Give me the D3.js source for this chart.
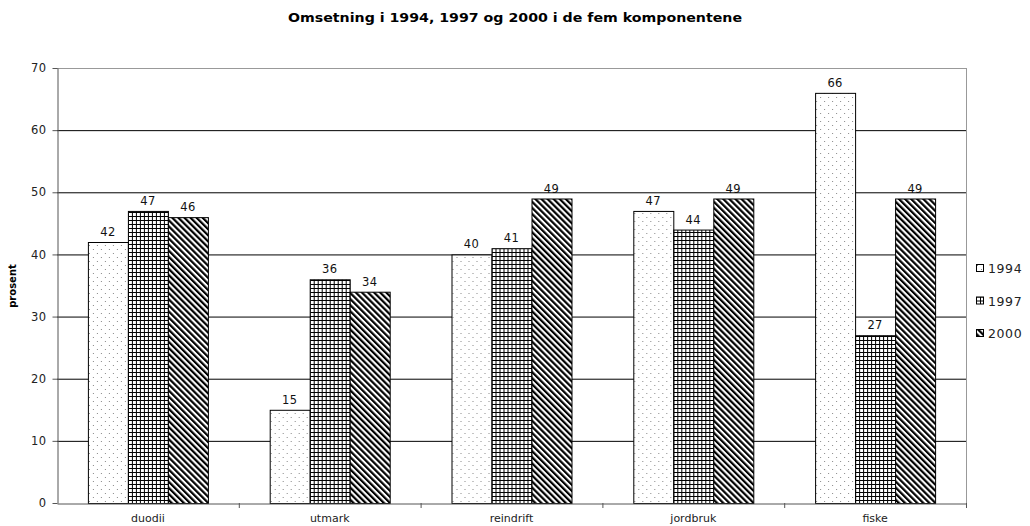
<!DOCTYPE html>
<html>
<head>
<meta charset="utf-8">
<script src="https://cdn.jsdelivr.net/npm/d3@7"></script>
<style>
  body { margin: 0; background: #fff; }
  text { font-family: "DejaVu Sans", Verdana, sans-serif; }
</style>
</head>
<body>
<div id="wrapper"></div>
<script>
var categories = ["duodii", "utmark", "reindrift", "jordbruk", "fiske"];
var years = ["1994", "1997", "2000"];
var values1994 = [42, 15, 40, 47, 66];
var values1997 = [47, 36, 41, 44, 27];
var values2000 = [46, 34, 49, 49, 49];
var yTicks = [0, 10, 20, 30, 40, 50, 60, 70];

var series = [values1994, values1997, values2000];

var width = 1030, height = 526;
var margin = { top: 68, right: 64, bottom: 23, left: 57 };

var svg = d3.select("#wrapper").append("svg")
    .attr("width", width)
    .attr("height", height);

// patterns
var defs = svg.append("defs");
var pDot = defs.append("pattern").attr("id", "p0")
    .attr("patternUnits", "userSpaceOnUse").attr("width", 8).attr("height", 8);
pDot.append("rect").attr("width", 8).attr("height", 8).attr("fill", "#fff");
pDot.append("rect").attr("x", 1).attr("y", 1).attr("width", 1).attr("height", 1).attr("fill", "#888");
pDot.append("rect").attr("x", 5).attr("y", 5).attr("width", 1).attr("height", 1).attr("fill", "#888");

var pGrid = defs.append("pattern").attr("id", "p1")
    .attr("patternUnits", "userSpaceOnUse").attr("width", 4).attr("height", 4);
pGrid.append("rect").attr("width", 4).attr("height", 4).attr("fill", "#fff");
pGrid.append("rect").attr("x", 0).attr("y", 0).attr("width", 4).attr("height", 1).attr("fill", "#000");
pGrid.append("rect").attr("x", 0).attr("y", 0).attr("width", 1).attr("height", 4).attr("fill", "#000");

var pDiag = defs.append("pattern").attr("id", "p2")
    .attr("patternUnits", "userSpaceOnUse").attr("width", 4.3).attr("height", 4.3)
    .attr("patternTransform", "rotate(-45)");
pDiag.append("rect").attr("width", 4.3).attr("height", 4.3).attr("fill", "#fff");
pDiag.append("rect").attr("x", 0).attr("y", 0).attr("width", 2.2).attr("height", 4.3).attr("fill", "#000");

var innerW = width - margin.left - margin.right;
var innerH = height - margin.top - margin.bottom;

var x = d3.scaleBand().domain(categories).range([0, innerW]);
var xInner = d3.scaleBand().domain(years).range([0, 120]);
var y = d3.scaleLinear().domain([0, 70]).range([innerH, 0]);

var g = svg.append("g").attr("transform", "translate(" + margin.left + "," + margin.top + ")");

// gridlines
g.selectAll(".grid").data(yTicks.filter(function (d) { return d > 0; }))
  .enter().append("line")
    .attr("x1", 0).attr("x2", innerW)
    .attr("y1", function (d) { return y(d) + 0.5; })
    .attr("y2", function (d) { return y(d) + 0.5; })
    .attr("stroke", function (d) { return d === 70 ? "#999" : "#000"; })
    .attr("stroke-width", 1);

// right border
g.append("line").attr("x1", innerW + 0.5).attr("x2", innerW + 0.5)
    .attr("y1", 0).attr("y2", innerH).attr("stroke", "#999");

// bars
var groups = g.selectAll(".cat").data(categories).enter().append("g")
    .attr("transform", function (d) { return "translate(" + (x(d) + (x.bandwidth() - 120) / 2) + ",0)"; });

groups.each(function (c, ci) {
    var grp = d3.select(this);
    years.forEach(function (yr, si) {
        var v = series[si][ci];
        grp.append("rect")
            .attr("x", xInner(yr) + 0.5)
            .attr("y", y(v) + 0.5)
            .attr("width", xInner.bandwidth())
            .attr("height", innerH - y(v))
            .attr("fill", "url(#p" + si + ")")
            .attr("stroke", "#000")
            .attr("stroke-width", 1);
        grp.append("text")
            .attr("x", xInner(yr) + xInner.bandwidth() / 2)
            .attr("y", y(v) - 6)
            .attr("text-anchor", "middle")
            .attr("font-size", 11.5)
            .attr("letter-spacing", 0.4)
            .attr("fill", "#111")
            .text(v);
    });
});

// y axis
var yAxis = g.append("g").attr("transform", "translate(0.5,0)")
    .call(d3.axisLeft(y).tickValues(yTicks).tickSize(5).tickSizeOuter(0));
yAxis.select(".domain").attr("stroke", "#555");
yAxis.selectAll(".tick line").attr("stroke", "#555");
yAxis.selectAll("text").attr("font-size", 11.5).attr("fill", "#222")
    .attr("letter-spacing", 0.4)
    .attr("font-family", "DejaVu Sans, Verdana, sans-serif").attr("dx", -3);

// x axis
var xAxis = g.append("g").attr("transform", "translate(0," + (innerH + 0.5) + ")")
    .call(d3.axisBottom(x).tickSize(0).tickSizeOuter(0));
xAxis.select(".domain").attr("stroke", "#555");
xAxis.selectAll("text").attr("font-size", 11).attr("fill", "#222")
    .attr("font-family", "DejaVu Sans, Verdana, sans-serif").attr("dy", "1.45em");
// tick marks at the category boundaries
g.selectAll(".xtick").data(categories).enter().append("line")
    .attr("x1", function (d) { return x(d) + x.bandwidth() + 0.5; })
    .attr("x2", function (d) { return x(d) + x.bandwidth() + 0.5; })
    .attr("y1", innerH).attr("y2", innerH + 5)
    .attr("stroke", "#555");

// title
svg.append("text")
    .attr("x", 515).attr("y", 22)
    .attr("text-anchor", "middle")
    .attr("font-size", 12).attr("font-weight", "bold")
    .attr("textLength", 454).attr("lengthAdjust", "spacingAndGlyphs")
    .text("Omsetning i 1994, 1997 og 2000 i de fem komponentene");

// y label
svg.append("text")
    .attr("transform", "translate(16,286) rotate(-90)")
    .attr("text-anchor", "middle")
    .attr("font-size", 10).attr("font-weight", "bold")
    .text("prosent");

// legend
var legend = svg.append("g").attr("transform", "translate(976,264)");
years.forEach(function (yr, i) {
    var row = legend.append("g").attr("transform", "translate(0," + (i * 32.5) + ")");
    row.append("rect").attr("x", 0.5).attr("y", 0.5).attr("width", 7).attr("height", 7)
        .attr("fill", "url(#p" + i + ")").attr("stroke", "#000");
    row.append("text").attr("x", 12).attr("y", 9)
        .attr("font-size", 12.5).attr("letter-spacing", 0.6).attr("fill", "#222").text(yr);
});
</script>
</body>
</html>
